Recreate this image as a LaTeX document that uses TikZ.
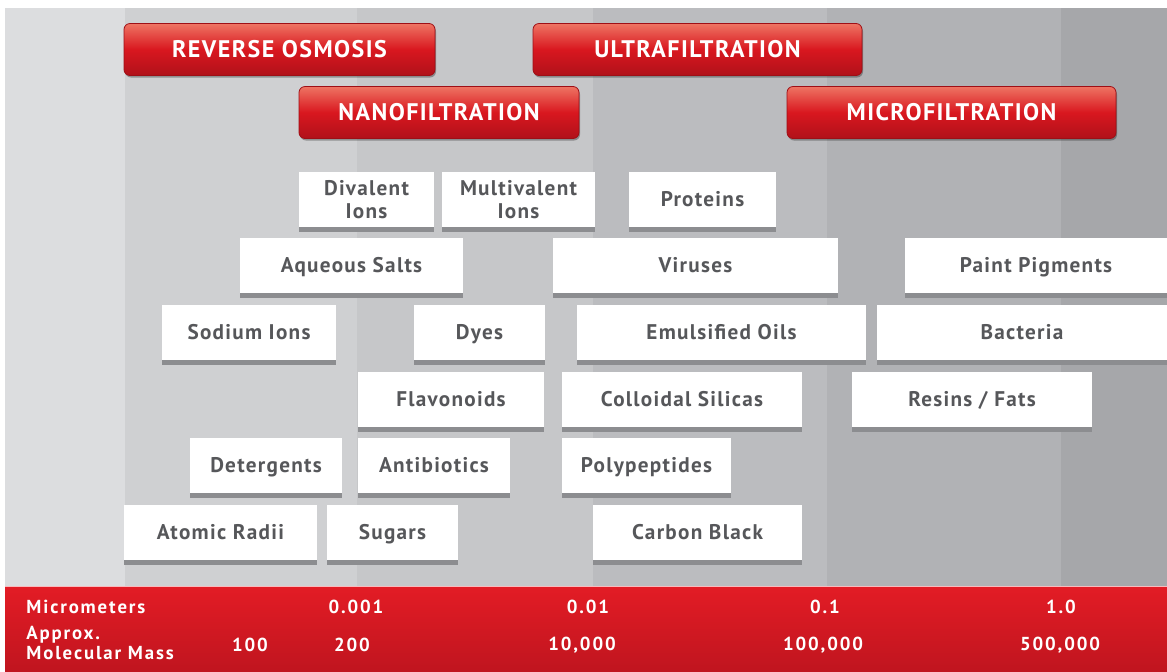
\documentclass[tikz,border=0pt]{standalone}
\usepackage{fontspec}
\setmainfont{PT Sans}
\newfontfamily\boxfont[LetterSpace=6]{PT Sans}
\newfontfamily\btnfont[LetterSpace=6]{PT Sans}
\newfontfamily\barfont[LetterSpace=10]{PT Sans}
\usetikzlibrary{shadows}
\definecolor{bandA}{HTML}{DCDDDF}
\definecolor{bandB}{HTML}{CFD0D2}
\definecolor{bandC}{HTML}{C6C7C9}
\definecolor{bandD}{HTML}{BBBCBF}
\definecolor{bandE}{HTML}{B1B2B5}
\definecolor{bandF}{HTML}{A6A7AA}
\definecolor{itemtext}{HTML}{56575A}
\definecolor{itemshadow}{HTML}{8C8D90}
\definecolor{btntop}{HTML}{EE7463}
\definecolor{btnmid}{HTML}{D9171F}
\definecolor{btnbot}{HTML}{B0111A}
\definecolor{btnedge}{HTML}{9E0F16}
\definecolor{bartop}{HTML}{E31C25}
\definecolor{barbot}{HTML}{C0151F}
\begin{document}
\begin{tikzpicture}[x=0.5pt, y=-0.5pt,
	item/.style={fill=white, minimum height=27.5pt, inner sep=0pt, text=itemtext, align=center, text height=0.8em, text depth=0.1em, font=\boxfont\bfseries\fontsize{10.6}{11.5}\selectfont, drop shadow={shadow xshift=0pt, shadow yshift=-2.5pt, opacity=1, fill=itemshadow}},
	btn/.style={rounded corners=3pt, draw=btnedge, top color=btntop, bottom color=btnbot, middle color=btnmid, minimum height=26pt, inner sep=0pt, text=white, font=\btnfont\bfseries\fontsize{12}{13}\selectfont, drop shadow={shadow xshift=0.5pt, shadow yshift=-1pt, opacity=0.3, fill=black}},
	axislabel/.style={text=white, inner sep=0pt, align=left, font=\barfont\bfseries\fontsize{9.4}{9.8}\selectfont}]
	
	\useasboundingbox (0,0) rectangle (1167,671);
	\fill[white] (0,0) rectangle (1167,671);
	\fill[bandA] (5,8) rectangle (125,586);
	\fill[bandB] (125,8) rectangle (357,586);
	\fill[bandC] (357,8) rectangle (593,586);
	\fill[bandD] (593,8) rectangle (827,586);
	\fill[bandE] (827,8) rectangle (1061,586);
	\fill[bandF] (1061,8) rectangle (1167,586);
	\shade[top color=bartop, bottom color=barbot] (5,586) rectangle (1167,671);
	\draw[white!70!bartop, line width=0.6pt] (5,586.5) -- (1167,586.5);
	
	\node[btn, minimum width=155.5pt] (ro) at (279.5,49.5) {REVERSE OSMOSIS};
	\node[btn, minimum width=164.5pt] (uf) at (697.5,49.5) {ULTRAFILTRATION};
	\node[btn, minimum width=140pt] (nf) at (439,112.5) {NANOFILTRATION};
	\node[btn, minimum width=164.5pt] (mf) at (951.5,112.5) {MICROFILTRATION};
	
	\node[item, minimum width=67.5pt, text height=, text depth=] (divalent) at (366.5,199.5) {Divalent\\Ions};
	\node[item, minimum width=76.5pt, text height=, text depth=] (multivalent) at (518.5,199.5) {Multivalent\\Ions};
	\node[item, minimum width=73.5pt] (proteins) at (702.5,199.5) {Proteins};
	
	\node[item, minimum width=111.5pt] (aqueous) at (351.5,265.5) {Aqueous Salts};
	\node[item, minimum width=142.5pt] (viruses) at (695.5,265.5) {Viruses};
	\node[item, minimum width=131pt] (paint) at (1036,265.5) {Paint Pigments};
	
	\node[item, minimum width=87pt] (sodium) at (249,332.5) {Sodium Ions};
	\node[item, minimum width=65.5pt] (dyes) at (479.5,332.5) {Dyes};
	\node[item, minimum width=144.5pt] (emulsified) at (721.5,332.5) {Emulsified Oils};
	\node[item, minimum width=145pt] (bacteria) at (1022,332.5) {Bacteria};
	
	\node[item, minimum width=93pt] (flavonoids) at (451,399) {Flavonoids};
	\node[item, minimum width=120pt] (colloidal) at (682,399) {Colloidal Silicas};
	\node[item, minimum width=120pt] (resins) at (972,399) {Resins / Fats};
	
	\node[item, minimum width=76pt] (detergents) at (266,465) {Detergents};
	\node[item, minimum width=76pt] (antibiotics) at (434,465) {Antibiotics};
	\node[item, minimum width=84.5pt] (polypeptides) at (646.5,465) {Polypeptides};
	
	\node[item, minimum width=96.5pt] (atomic) at (220.5,532.5) {Atomic Radii};
	\node[item, minimum width=65.5pt] (sugars) at (392.5,532.5) {Sugars};
	\node[item, minimum width=104.5pt] (carbon) at (697.5,532.5) {Carbon Black};
	
	\node[axislabel, anchor=west] (micro) at (26,607) {Micrometers};
	\node[axislabel, anchor=west] (mass) at (26,643) {Approx.\\Molecular Mass};
	\node[axislabel] (um1) at (356,607) {0.001};
	\node[axislabel] (um2) at (588,607) {0.01};
	\node[axislabel] (um3) at (825,607) {0.1};
	\node[axislabel] (um4) at (1061,607) {1.0};
	\node[axislabel] (m1) at (250,645) {100};
	\node[axislabel] (m2) at (352,645) {200};
	\node[axislabel] (m3) at (582,645) {10,000};
	\node[axislabel] (m4) at (823,645) {100,000};
	\node[axislabel] (m5) at (1060,645) {500,000};
	
\end{tikzpicture}
\end{document}
